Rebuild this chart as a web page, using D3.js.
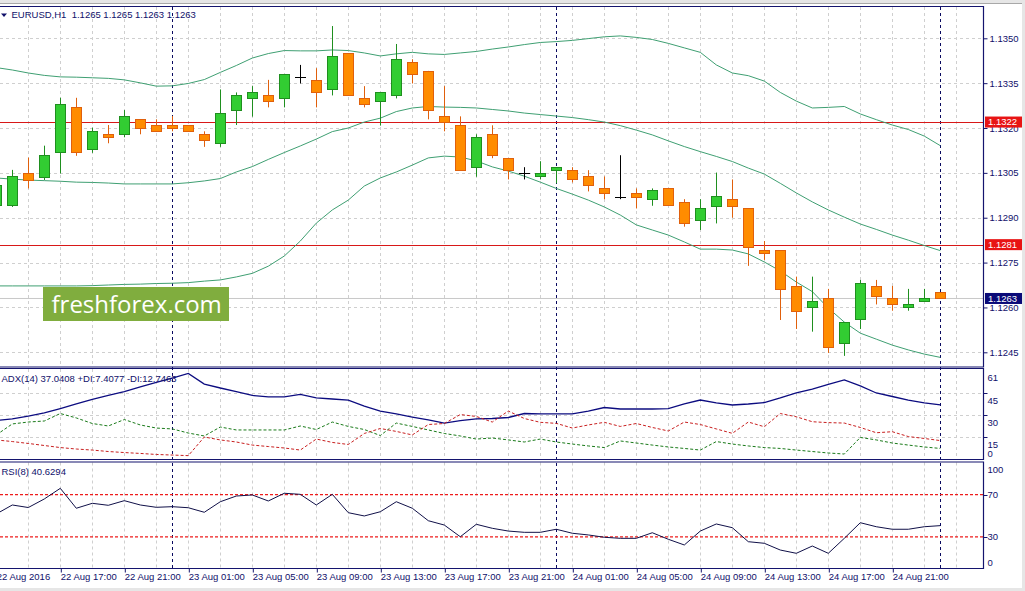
<!DOCTYPE html>
<html>
<head>
<meta charset="utf-8">
<script src="https://cdn.jsdelivr.net/npm/d3@7"></script>
<style>
  body { margin: 0; background: #fff; }
  text { font-family: "Liberation Sans", Arial, sans-serif; font-size: 9.5px; fill: #10106a; white-space: pre; }
</style>
</head>
<body>
<div id="chart"></div>
<script>
// EURUSD H1, 22 Aug 13:00 .. 25 Aug 00:00 (one value per bar)
const open = [1.12942, 1.12942, 1.13048, 1.13037, 1.13117, 1.13269, 1.13129, 1.13179, 1.13179, 1.13230,
  1.13210, 1.13210, 1.13210, 1.13179, 1.13149, 1.13260, 1.13299, 1.13309, 1.13299, 1.13370,
  1.13360, 1.13329, 1.13450, 1.13299, 1.13289, 1.13309, 1.13420, 1.13391, 1.13239, 1.13209,
  1.13069, 1.13179, 1.13099, 1.13048, 1.13038, 1.13059, 1.13059, 1.13038, 1.12998, 1.12970,
  1.12984, 1.12962, 1.12998, 1.12952, 1.12890, 1.12940, 1.12962, 1.12931, 1.12792, 1.12792,
  1.12672, 1.12600, 1.12632, 1.12480, 1.12560, 1.12672, 1.12630, 1.12600, 1.12620, 1.12650];
const high = [1.13019, 1.13060, 1.13101, 1.13141, 1.13301, 1.13301, 1.13201, 1.13210, 1.13260, 1.13230,
  1.13229, 1.13240, 1.13210, 1.13189, 1.13329, 1.13319, 1.13340, 1.13361, 1.13380, 1.13411,
  1.13400, 1.13541, 1.13450, 1.13340, 1.13319, 1.13481, 1.13430, 1.13391, 1.13340, 1.13239,
  1.13179, 1.13209, 1.13099, 1.13069, 1.13089, 1.13069, 1.13069, 1.13059, 1.13038, 1.13109,
  1.12998, 1.12998, 1.12998, 1.12962, 1.12962, 1.13051, 1.13028, 1.12931, 1.12822, 1.12792,
  1.12703, 1.12703, 1.12662, 1.12550, 1.12692, 1.12692, 1.12672, 1.12662, 1.12662, 1.12650];
const low = [1.12936, 1.12936, 1.12998, 1.13026, 1.13048, 1.13107, 1.13117, 1.13149, 1.13169, 1.13179,
  1.13189, 1.13189, 1.13189, 1.13137, 1.13137, 1.13210, 1.13238, 1.13269, 1.13269, 1.13349,
  1.13269, 1.13309, 1.13309, 1.13269, 1.13208, 1.13299, 1.13349, 1.13229, 1.13189, 1.13059,
  1.13037, 1.13099, 1.13028, 1.13028, 1.13028, 1.13015, 1.13018, 1.12988, 1.12962, 1.12962,
  1.12931, 1.12940, 1.12942, 1.12870, 1.12859, 1.12881, 1.12900, 1.12739, 1.12759, 1.12558,
  1.12528, 1.12519, 1.12448, 1.12438, 1.12528, 1.12610, 1.12589, 1.12589, 1.12620, 1.12630];
const close = [1.13009, 1.13039, 1.13026, 1.13110, 1.13279, 1.13117, 1.13190, 1.13169, 1.13240, 1.13199,
  1.13189, 1.13199, 1.13189, 1.13159, 1.13249, 1.13309, 1.13319, 1.13289, 1.13380, 1.13370,
  1.13319, 1.13440, 1.13309, 1.13279, 1.13319, 1.13430, 1.13380, 1.13259, 1.13219, 1.13059,
  1.13170, 1.13109, 1.13059, 1.13048, 1.13048, 1.13069, 1.13028, 1.13008, 1.12982, 1.12970,
  1.12970, 1.12993, 1.12942, 1.12881, 1.12931, 1.12973, 1.12940, 1.12800, 1.12781, 1.12661,
  1.12589, 1.12621, 1.12469, 1.12550, 1.12681, 1.12640, 1.12610, 1.12610, 1.12630, 1.12630];

const bandUpper = [1.13402, 1.13394, 1.13384, 1.13376, 1.13371, 1.13370, 1.13368, 1.13366, 1.13361, 1.13351,
  1.13340, 1.13341, 1.13349, 1.13362, 1.13386, 1.13409, 1.13434, 1.13449, 1.13459, 1.13458,
  1.13458, 1.13461, 1.13459, 1.13451, 1.13441, 1.13448, 1.13453, 1.13448, 1.13446, 1.13451,
  1.13456, 1.13464, 1.13471, 1.13479, 1.13486, 1.13489, 1.13493, 1.13499, 1.13505, 1.13508,
  1.13503, 1.13496, 1.13483, 1.13468, 1.13453, 1.13411, 1.13384, 1.13375, 1.13357, 1.13319,
  1.13290, 1.13267, 1.13269, 1.13272, 1.13247, 1.13228, 1.13210, 1.13195, 1.13173, 1.13141];
const bandMiddle = [1.13033, 1.13029, 1.13026, 1.13024, 1.13022, 1.13019, 1.13018, 1.13016, 1.13013, 1.13013,
  1.13013, 1.13013, 1.13017, 1.13023, 1.13031, 1.13053, 1.13071, 1.13095, 1.13118, 1.13140,
  1.13163, 1.13188, 1.13200, 1.13220, 1.13233, 1.13255, 1.13267, 1.13272, 1.13270, 1.13269,
  1.13267, 1.13262, 1.13257, 1.13250, 1.13245, 1.13240, 1.13235, 1.13228, 1.13220, 1.13208,
  1.13193, 1.13177, 1.13157, 1.13138, 1.13121, 1.13105, 1.13088, 1.13066, 1.13046, 1.13015,
  1.12983, 1.12953, 1.12926, 1.12902, 1.12879, 1.12861, 1.12842, 1.12825, 1.12807, 1.12790];
const bandLower = [1.12672, 1.12672, 1.12672, 1.12672, 1.12672, 1.12672, 1.12673, 1.12675, 1.12677, 1.12678,
  1.12680, 1.12681, 1.12683, 1.12688, 1.12692, 1.12702, 1.12714, 1.12738, 1.12772, 1.12822,
  1.12882, 1.12926, 1.12959, 1.13006, 1.13033, 1.13053, 1.13076, 1.13100, 1.13106, 1.13103,
  1.13090, 1.13070, 1.13056, 1.13039, 1.13019, 1.12998, 1.12979, 1.12959, 1.12936, 1.12909,
  1.12876, 1.12859, 1.12842, 1.12819, 1.12795, 1.12795, 1.12792, 1.12779, 1.12752, 1.12722,
  1.12685, 1.12653, 1.12598, 1.12551, 1.12514, 1.12494, 1.12474, 1.12458, 1.12444, 1.12433];

const adx = [26.4, 27.5, 29.5, 31.6, 34.6, 37.7, 40.8, 43.5, 46.2, 49.3,
  52.4, 55.4, 58.5, 51.3, 48.6, 46.2, 43.5, 42.5, 42.5, 44.2,
  41.8, 41.1, 40.4, 36.3, 32.9, 30.9, 28.8, 26.8, 24.7, 26.4,
  27.5, 27.8, 28.5, 31.2, 30.9, 30.9, 30.9, 32.9, 35.3, 34.3,
  34.3, 34.3, 34.6, 37.7, 40.4, 38.4, 37.0, 37.7, 38.7, 41.8,
  45.2, 47.9, 51.0, 54.1, 50.0, 45.2, 42.8, 40.4, 38.4, 37.04];
const plusDi = [16.6, 24.1, 25.4, 26.1, 31.2, 28.2, 24.4, 22.7, 27.1, 23.4,
  21.3, 20.7, 17.9, 15.9, 22.0, 20.0, 20.0, 20.0, 20.0, 22.7,
  20.3, 25.4, 22.4, 20.3, 16.2, 24.7, 22.4, 20.0, 17.6, 15.9,
  13.8, 14.5, 13.2, 11.8, 13.8, 11.8, 10.4, 9.1, 8.0, 12.5,
  11.1, 9.7, 8.4, 7.4, 6.3, 12.1, 10.4, 9.1, 8.0, 7.4,
  6.3, 5.3, 4.3, 3.6, 14.9, 13.2, 11.1, 9.7, 8.4, 7.41];
const minusDi = [13.2, 12.1, 10.8, 9.4, 8.0, 7.0, 6.3, 5.3, 4.6, 4.0,
  3.3, 2.9, 2.5, 15.2, 13.2, 11.8, 9.7, 8.7, 7.7, 6.3,
  13.8, 11.5, 10.1, 17.6, 21.0, 19.0, 16.6, 23.7, 24.4, 30.5,
  29.2, 25.4, 32.9, 27.8, 25.2, 24.5, 21.3, 23.4, 25.2, 22.4,
  24.4, 21.7, 19.3, 25.4, 23.7, 20.7, 17.7, 25.4, 22.2, 31.2,
  29.0, 25.6, 25.0, 24.7, 21.7, 18.1, 18.8, 15.5, 14.2, 12.75];
const rsi = [51.7, 60.2, 57.8, 65.9, 76.0, 57.1, 61.8, 59.9, 64.3, 60.2,
  58.0, 58.6, 57.6, 53.3, 63.3, 68.7, 69.7, 64.0, 71.3, 70.3,
  60.2, 70.3, 52.9, 49.8, 53.8, 63.3, 57.1, 45.3, 41.2, 30.1,
  41.9, 38.1, 35.5, 34.3, 34.3, 37.2, 33.4, 31.8, 29.6, 28.6,
  28.6, 33.9, 27.7, 22.3, 35.5, 42.2, 38.7, 25.4, 23.9, 17.5,
  14.4, 21.3, 14.4, 28.6, 43.4, 39.6, 37.2, 37.2, 39.6, 40.63];

const timeLabels = ["22 Aug 2016", "22 Aug 17:00", "22 Aug 21:00", "23 Aug 01:00", "23 Aug 05:00",
  "23 Aug 09:00", "23 Aug 13:00", "23 Aug 17:00", "23 Aug 21:00", "24 Aug 01:00", "24 Aug 05:00",
  "24 Aug 09:00", "24 Aug 13:00", "24 Aug 17:00", "24 Aug 21:00"];
const labelBars = [0, 4, 8, 12, 16, 20, 24, 28, 32, 36, 40, 44, 48, 52, 56];
const dayStarts = [11, 35, 59];
const priceTicks = [1.1350, 1.1335, 1.1320, 1.1305, 1.1290, 1.1275, 1.1260, 1.1245];
const levelLines = [1.1322, 1.1281];
const lastPrice = 1.1263;
const adxTicks = [61, 45, 30, 15, 0];
const rsiTicks = [100, 70, 30, 0];
const rsiLevels = [70, 30];

const W = 1025, H = 591, R = 983.5;
const main = { top: 7, bottom: 367 }, sub1 = { top: 369, bottom: 459.5 }, sub2 = { top: 462.5, bottom: 568.5 };
const px = v => Math.round(v) + 0.5;
const font = "'Liberation Sans', Arial, sans-serif";

const x = d3.scaleLinear().domain([0, 59]).range([-3.7, 940.3]);
const y = d3.scaleLinear().domain([1.1245, 1.1350]).range([352.3, 38.3]);
const yAdx = d3.scaleLinear().domain([0, 61]).range([459.3, 369.8]);
const yRsi = d3.scaleLinear().domain([0, 100]).range([568.5, 463]);

const svg = d3.select("#chart").append("svg").attr("width", W).attr("height", H);
svg.append("rect").attr("width", W).attr("height", H).attr("fill", "#fff");

// window frame
svg.append("rect").attr("width", W).attr("height", 3.5).attr("fill", "#e6e6e6");
svg.append("line").attr("x1", 0).attr("x2", W).attr("y1", 3.5).attr("y2", 3.5).attr("stroke", "#a8a8a8");
svg.append("rect").attr("x", 1022).attr("width", 3).attr("height", H).attr("fill", "#e6e6e6");
svg.append("rect").attr("y", 588).attr("width", W).attr("height", 3).attr("fill", "#e6e6e6");

const defs = svg.append("defs");
[["cm", main], ["c1", sub1], ["c2", sub2]].forEach(([id, p]) => {
    defs.append("clipPath").attr("id", id).append("rect")
        .attr("x", 0).attr("y", p.top).attr("width", R).attr("height", p.bottom - p.top);
});

// vertical grid (every 2 bars) in all panels
const gridBars = d3.range(0, 61, 2);
[main, sub1, sub2].forEach(p => {
    svg.append("g").selectAll("line").data(gridBars).enter().append("line")
        .attr("x1", d => px(x(d))).attr("x2", d => px(x(d)))
        .attr("y1", p.top).attr("y2", p.bottom)
        .attr("stroke", "#cfcfcf").attr("stroke-dasharray", "3,3");
});

// horizontal grids
svg.append("g").selectAll("line").data(priceTicks).enter().append("line")
    .attr("x1", 0).attr("x2", R).attr("y1", d => px(y(d))).attr("y2", d => px(y(d)))
    .attr("stroke", "#cfcfcf").attr("stroke-dasharray", "3,3");
svg.append("g").selectAll("line").data([45, 30, 15]).enter().append("line")
    .attr("x1", 0).attr("x2", R).attr("y1", d => px(yAdx(d))).attr("y2", d => px(yAdx(d)))
    .attr("stroke", "#cfcfcf").attr("stroke-dasharray", "3,3");

// day separators
svg.append("g").selectAll("line").data(dayStarts).enter().append("line")
    .attr("x1", d => px(x(d))).attr("x2", d => px(x(d)))
    .attr("y1", main.top).attr("y2", sub2.bottom)
    .attr("stroke", "#0a0a60").attr("stroke-dasharray", "3,3");

const gMain = svg.append("g").attr("clip-path", "url(#cm)");

// bid line and level lines
gMain.append("line").attr("x1", 0).attr("x2", R)
    .attr("y1", y(lastPrice)).attr("y2", y(lastPrice)).attr("stroke", "#c8c8c8");
gMain.selectAll(".lvl").data(levelLines).enter().append("line")
    .attr("x1", 0).attr("x2", R).attr("y1", d => px(y(d))).attr("y2", d => px(y(d)))
    .attr("stroke", "#d81818").attr("stroke-width", 1.2);

// Bollinger bands
const band = d3.line().x((d, i) => x(i)).y(d => y(d));
[bandUpper, bandMiddle, bandLower].forEach(s => {
    gMain.append("path").datum(s).attr("d", band)
        .attr("fill", "none").attr("stroke", "#3f9f72").attr("stroke-width", 1);
});

// watermark
svg.append("rect").attr("x", 43).attr("y", 287).attr("width", 186).attr("height", 34).attr("fill", "#80ad3e");
svg.append("text").attr("x", 51.5).attr("y", 312.5).text("freshforex.com")
    .style("font-family", "'Open Sans', sans-serif").style("font-size", "24px").style("fill", "#fff");

// candles
const bars = d3.range(open.length).map(i => ({ i, o: open[i], h: high[i], l: low[i], c: close[i] }));
const kind = d => Math.abs(d.o - d.c) < 0.000005 ? "doji" : (d.c > d.o ? "up" : "down");
const stroke = { up: "#1f8f1f", down: "#e0600c", doji: "#000" };
const fill = { up: "#32cd32", down: "#ff8c00" };

const candle = gMain.selectAll(".bar").data(bars).enter().append("g").attr("class", "bar");
candle.append("line")
    .attr("x1", d => px(x(d.i))).attr("x2", d => px(x(d.i)))
    .attr("y1", d => y(d.h)).attr("y2", d => y(d.l))
    .attr("stroke", d => stroke[kind(d)]);
candle.filter(d => kind(d) !== "doji").append("rect")
    .attr("x", d => Math.round(x(d.i)) - 4.5).attr("width", 10)
    .attr("y", d => px(y(Math.max(d.o, d.c))))
    .attr("height", d => Math.max(1, Math.round(Math.abs(y(d.o) - y(d.c)))))
    .attr("fill", d => fill[kind(d)]).attr("stroke", d => stroke[kind(d)]);
candle.filter(d => kind(d) === "doji").append("line")
    .attr("x1", d => Math.round(x(d.i)) - 5).attr("x2", d => Math.round(x(d.i)) + 6)
    .attr("y1", d => px(y(d.o))).attr("y2", d => px(y(d.o)))
    .attr("stroke", "#000");

// ADX panel
const g1 = svg.append("g").attr("clip-path", "url(#c1)");
const adxLine = d3.line().x((d, i) => x(i)).y(d => yAdx(d));
g1.append("path").datum(adx).attr("d", adxLine).attr("fill", "none").attr("stroke", "#0c0c80").attr("stroke-width", 1.3);
g1.append("path").datum(plusDi).attr("d", adxLine).attr("fill", "none").attr("stroke", "#1a7a1a").attr("stroke-dasharray", "3,2");
g1.append("path").datum(minusDi).attr("d", adxLine).attr("fill", "none").attr("stroke", "#c82020").attr("stroke-dasharray", "3,2");

// RSI panel
const g2 = svg.append("g").attr("clip-path", "url(#c2)");
g2.selectAll(".lvl").data(rsiLevels).enter().append("line")
    .attr("x1", 0).attr("x2", R).attr("y1", d => yRsi(d)).attr("y2", d => yRsi(d))
    .attr("stroke", "#ee1c1c").attr("stroke-width", 1.1).attr("stroke-dasharray", "3,2");
g2.append("path").datum(rsi).attr("d", d3.line().x((d, i) => x(i)).y(d => yRsi(d)))
    .attr("fill", "none").attr("stroke", "#101048").attr("stroke-width", 1);

// panel frames
[main, sub1, sub2].forEach(p => {
    svg.append("path")
        .attr("d", `M0,${p.top - 0.5}H${R}V${p.bottom}H0`)
        .attr("fill", "none").attr("stroke", "#14146e").attr("stroke-width", 1.2);
});

// price axis
const priceAxis = svg.append("g").attr("transform", `translate(${R},0)`)
    .call(d3.axisRight(y).tickValues(priceTicks).tickFormat(d3.format(".4f")).tickSize(4).tickPadding(2));
priceAxis.select(".domain").remove();
priceAxis.selectAll("line").attr("stroke", "#14146e");
priceAxis.selectAll("text").attr("fill", "#10106a").style("font-size", "9.5px").style("font-family", font);

// price tags
const tags = [[levelLines[0], "#e81414"], [levelLines[1], "#e81414"], [lastPrice, "#0a0a78"]];
tags.forEach(([v, c]) => {
    svg.append("rect").attr("x", 985).attr("y", y(v) - 5.5).attr("width", 37).attr("height", 11).attr("fill", c);
    svg.append("text").attr("x", 988).attr("y", y(v)).attr("dy", "0.35em").text(d3.format(".4f")(v)).style("fill", "#fff");
});

// ADX / RSI scales
svg.append("g").selectAll("line").data([45, 30, 15]).enter().append("line")
    .attr("x1", R).attr("x2", R + 4).attr("y1", d => px(yAdx(d))).attr("y2", d => px(yAdx(d))).attr("stroke", "#14146e");
svg.append("g").selectAll("text").data(adxTicks).enter().append("text")
    .attr("x", 987.5).attr("y", d => Math.min(yAdx(d) + 7.5, sub1.bottom - 5.5)).attr("dy", "0.35em").text(d => d);
svg.append("g").selectAll("line").data(rsiLevels).enter().append("line")
    .attr("x1", R).attr("x2", R + 4).attr("y1", d => px(yRsi(d))).attr("y2", d => px(yRsi(d))).attr("stroke", "#14146e");
svg.append("g").selectAll("text").data(rsiTicks).enter().append("text")
    .attr("x", 987.5).attr("y", d => Math.max(sub2.top + 7, Math.min(yRsi(d), sub2.bottom - 6))).attr("dy", "0.35em").text(d => d);

// time axis
const timeAxis = svg.append("g").attr("transform", `translate(0,${sub2.bottom})`)
    .call(d3.axisBottom(x).tickValues(labelBars).tickFormat((d, i) => timeLabels[i]).tickSize(4).tickPadding(1));
timeAxis.select(".domain").remove();
timeAxis.selectAll("line").attr("stroke", "#14146e").attr("transform", "translate(0.5,0)");
timeAxis.selectAll("text").attr("text-anchor", "start").attr("fill", "#10106a")
    .style("font-size", "9.5px").style("font-family", font);

// indicator captions
svg.append("path").attr("d", "M1,13.5H7L4,17Z").attr("fill", "#10106a");
svg.append("text").attr("x", 11.5).attr("y", 15).attr("dy", "0.35em").text("EURUSD,H1  1.1265 1.1265 1.1263 1.1263");
svg.append("text").attr("x", 1.5).attr("y", 378.5).attr("dy", "0.35em").text("ADX(14) 37.0408 +DI:7.4077 -DI:12.7463");
svg.append("text").attr("x", 1.5).attr("y", 472).attr("dy", "0.35em").text("RSI(8) 40.6294");
</script>
</body>
</html>
